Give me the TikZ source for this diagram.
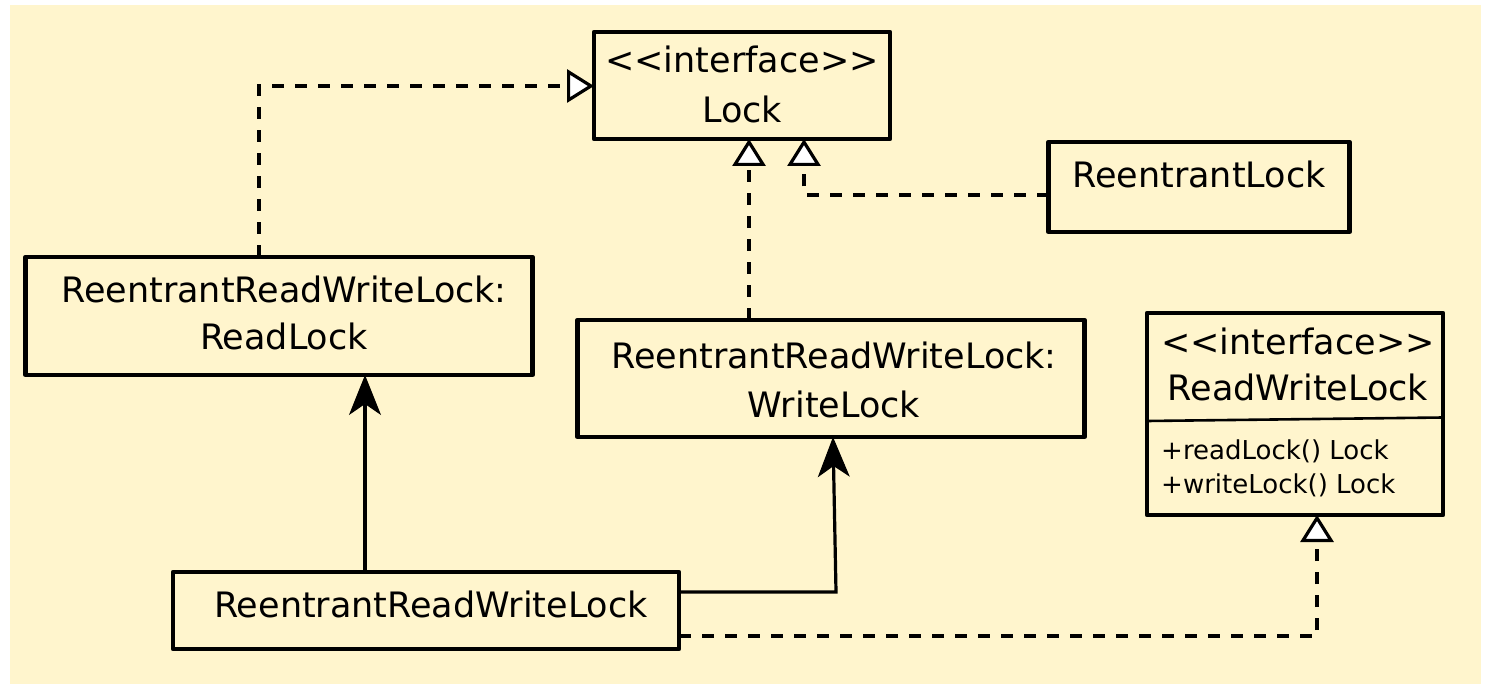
\documentclass[tikz,border=0pt]{standalone}
\usepackage{fontspec}
\newfontfamily\dvsans{DejaVu Sans}
\usetikzlibrary{arrows.meta}
\definecolor{paper}{RGB}{255,245,205}
% guillemet-free stereotype brackets
\newcommand\stereo[1]{<\kern0pt<#1>\kern0pt>}
\tikzset{
  hollowtip/.tip={Triangle[open, fill=white, line width=3.2pt, length=27pt, width=33pt]},
  solidtip/.tip={Stealth[line width=1pt, length=40pt, width=32pt, inset=11pt]},
  classbox/.style={draw, line width=4.3pt, line join=round, inner sep=0pt, outer sep=0pt},
  clsname/.style={font=\dvsans\fontsize{35}{42}\selectfont, inner sep=0pt, anchor=base},
  member/.style={font=\dvsans\fontsize{26}{32}\selectfont, inner sep=0pt, anchor=base west},
  realize/.style={line width=3.2pt, line join=miter, dash pattern=on 12pt off 11pt, -hollowtip},
  assoc/.style={line width=3.2pt, -solidtip}
}
\begin{document}
\begin{tikzpicture}[x=1pt,y=-1pt]

\useasboundingbox (0,0) rectangle (1485,684);
\fill[paper] (10,5) rectangle (1481,684);

% class boxes
\node[classbox, minimum width=296pt, minimum height=107pt] (lock) at (742,85.5) {};
\node[classbox, minimum width=301pt, minimum height=90pt] (rlock) at (1199,187) {};
\node[classbox, minimum width=507pt, minimum height=118pt] (readlock) at (279,316) {};
\node[classbox, minimum width=507pt, minimum height=117pt] (writelock) at (831,378.5) {};
\node[classbox, minimum width=296pt, minimum height=202pt] (rwl) at (1295,414) {};
\node[classbox, minimum width=506pt, minimum height=77pt] (rrwl) at (426,610.5) {};
\draw[line width=2.6pt] (rwl.west |- 0,421) -- (rwl.east |- 0,417.5);

% class names
\node[clsname] (lockA) at (742,73) {\stereo{interface}};
\node[clsname] (lockB) at (742,123) {Lock};
\node[clsname] (rlockA) at (1199,188) {ReentrantLock};
\node[clsname] (readA) at (284,303) {ReentrantReadWriteLock:};
\node[clsname] (readB) at (284,349) {ReadLock};
\node[clsname] (writeA) at (834,368) {ReentrantReadWriteLock:};
\node[clsname] (writeB) at (834,417) {WriteLock};
\node[clsname] (rwlA) at (1298,355) {\stereo{interface}};
\node[clsname] (rwlB) at (1298,400) {ReadWriteLock};
\node[member] (rwlM1) at (1161,459) {+readLock() Lock};
\node[member] (rwlM2) at (1161,493) {+writeLock() Lock};
\node[clsname] (rrwlA) at (431,617) {ReentrantReadWriteLock};

% realizations of the interfaces
\draw[realize] (readlock.north -| 259,0) |- (lock.west |- 0,86);
\draw[realize] (writelock.north -| 749,0) -- (lock.south -| 749,0);
\draw[realize] (rlock.west |- 0,195) -| (lock.south -| 804,0);
\draw[realize] (rrwl.east |- 0,636) -| (rwl.south -| 1317,0);

% associations from the outer lock
\draw[assoc] (rrwl.north -| 365,0) -- (readlock.south -| 365,0);
\draw[assoc] (rrwl.east |- 0,592) -- (836,592) -- (writelock.south -| 833,0);
\end{tikzpicture}
\end{document}
